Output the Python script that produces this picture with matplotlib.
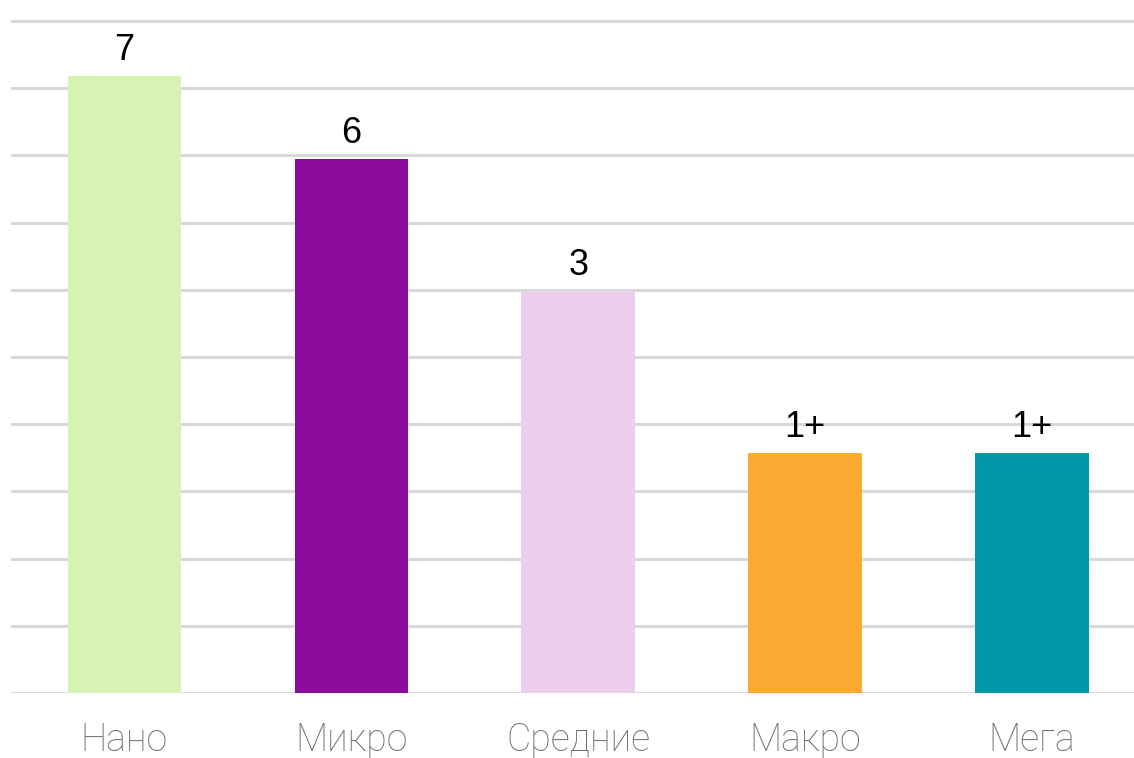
import matplotlib.pyplot as plt

categories = ['Нано', 'Микро', 'Средние', 'Макро', 'Мега']
heights = [9.18, 7.95, 5.98, 3.57, 3.57]
labels = ['7', '6', '3', '1+', '1+']
colors = ['#d7f3b3', '#8a0b9c', '#eccfec', '#fdaa33', '#0198a8']

W, H = 1134, 758
fig = plt.figure(figsize=(W / 100, H / 100), dpi=100)
ax = fig.add_axes([11 / W, (H - 693) / H, 1 - 11 / W, (693 - 18) / H])

x = range(len(categories))
ax.bar(x, heights, width=0.5, color=colors, zorder=3)
for xi, h, lab in zip(x, heights, labels):
    ax.text(xi, h + 0.12, lab, ha='center', va='bottom', fontsize=26,
            color='black', family=['Liberation Sans', 'DejaVu Sans'], zorder=4)

ax.set_xlim(-0.5, 4.45)
ax.set_ylim(0, 10.045)
ax.set_yticks(range(0, 11))
ax.yaxis.grid(True, color='#d9d9d9', linewidth=2.2, zorder=0)
ax.tick_params(axis='y', left=False, labelleft=False)
ax.tick_params(axis='x', bottom=False, pad=17)
ax.set_xticks(list(x))
ax.set_xticklabels(categories, fontsize=27, color='#707070',
                   family=['Roboto', 'DejaVu Sans'], fontweight='light')
for s in ax.spines.values():
    s.set_visible(False)

fig.savefig('out.png', dpi=100)
